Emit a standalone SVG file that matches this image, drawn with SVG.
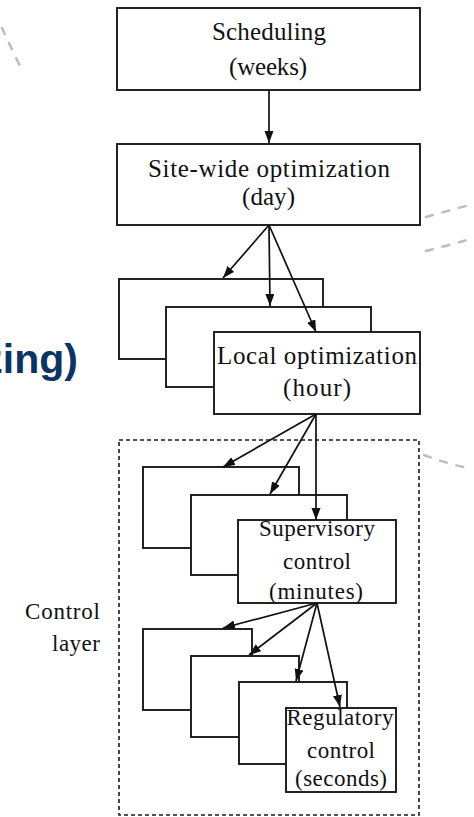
<svg xmlns="http://www.w3.org/2000/svg" width="474" height="817" viewBox="0 0 474 817">
<style>
.box{fill:#fff;stroke:#1a1a1a;stroke-width:1.9}
.t{font-family:"Liberation Serif","Times New Roman",serif;font-size:25px;fill:#111;text-anchor:middle}
.s{font-family:"Liberation Serif","Times New Roman",serif;font-size:23px;fill:#111;text-anchor:middle}
.lbl{font-family:"Liberation Serif","Times New Roman",serif;font-size:23px;fill:#111;text-anchor:end}
.c{stroke:#111;stroke-width:1.7;fill:none;marker-end:url(#ah)}
.bg{stroke:#bdbdbd;stroke-width:2.5;fill:none;stroke-dasharray:7 10;stroke-linecap:round}
</style>
<defs>
<marker id="ah" markerUnits="userSpaceOnUse" markerWidth="13" markerHeight="10" refX="12" refY="4.5" orient="auto">
<path d="M0,0 L12,4.5 L0,9 Z" fill="#111"/>
</marker>
</defs>
<g id="background">
<path class="bg" d="M2,28 Q12,50 24,74"/>
<path class="bg" d="M426,217 Q450,210 474,204"/>
<path class="bg" d="M426,251 Q450,245 474,238"/>
<path class="bg" d="M424,455 Q448,464 472,469"/>
<text x="78" y="373" font-family="Liberation Sans,Arial,sans-serif" font-weight="bold" font-size="41" fill="#0a3466" text-anchor="end">zing)</text>
</g>
<g id="control-layer">
<rect x="119" y="440" width="300" height="375" fill="none" stroke="#1a1a1a" stroke-width="1.6" stroke-dasharray="4 3"/>
<text class="lbl" x="100" y="619" textLength="75">Control</text>
<text class="lbl" x="100" y="651" textLength="48">layer</text>
</g>
<g id="scheduling">
<rect class="box" x="117" y="8" width="303" height="82"/>
<text class="t" x="269" y="40" textLength="114">Scheduling</text>
<text class="t" x="268" y="75" textLength="78">(weeks)</text>
</g>
<g id="site-wide">
<rect class="box" x="117" y="144" width="303" height="81"/>
<text class="t" x="269" y="177" textLength="242">Site-wide optimization</text>
<text class="t" x="268.5" y="205" textLength="53">(day)</text>
</g>
<g id="local">
<rect class="box" x="119" y="279" width="204" height="80"/>
<rect class="box" x="166" y="307" width="205" height="80"/>
<rect class="box" x="214" y="332" width="206" height="82"/>
<text class="t" x="317" y="364" textLength="200">Local optimization</text>
<text class="t" x="317" y="396" textLength="68">(hour)</text>
</g>
<g id="supervisory">
<rect class="box" x="143" y="467" width="156" height="81"/>
<rect class="box" x="191" y="495" width="156" height="80"/>
<rect class="box" x="238" y="520" width="158" height="83"/>
<text class="s" x="317" y="536" textLength="116">Supervisory</text>
<text class="s" x="317" y="569" textLength="68">control</text>
<text class="s" x="316" y="599" textLength="94">(minutes)</text>
</g>
<g id="regulatory">
<rect class="box" x="143" y="629" width="109" height="81"/>
<rect class="box" x="191" y="656" width="108" height="81"/>
<rect class="box" x="239" y="682" width="108" height="82"/>
<rect class="box" x="286" y="708" width="110" height="84"/>
<text class="s" x="340" y="725" textLength="107">Regulatory</text>
<text class="s" x="341" y="758" textLength="68">control</text>
<text class="s" x="341" y="786" textLength="92">(seconds)</text>
</g>
<g id="connectors">
<line class="c" x1="269" y1="90" x2="269" y2="143"/>
<line class="c" x1="269" y1="225" x2="223" y2="278"/>
<line class="c" x1="269" y1="225" x2="270" y2="306"/>
<line class="c" x1="269" y1="225" x2="316" y2="332"/>
<line class="c" x1="316" y1="414" x2="223" y2="467"/>
<line class="c" x1="316" y1="414" x2="270" y2="494"/>
<line class="c" x1="316" y1="414" x2="316" y2="520"/>
<line class="c" x1="317" y1="603" x2="223" y2="628"/>
<line class="c" x1="317" y1="603" x2="249" y2="655"/>
<line class="c" x1="317" y1="603" x2="296" y2="681"/>
<line class="c" x1="317" y1="603" x2="340" y2="707"/>
</g>
</svg>
